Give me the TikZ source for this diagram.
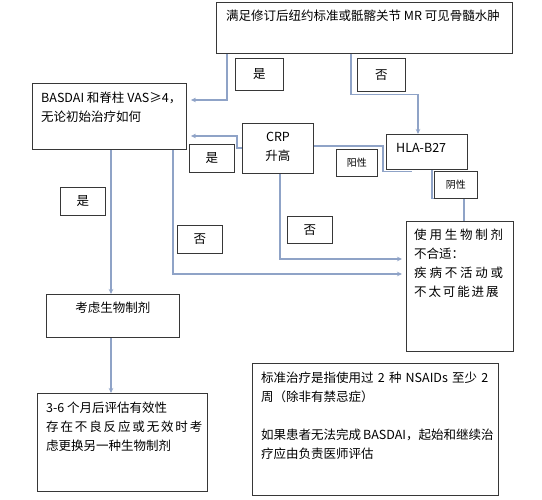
\documentclass[tikz,border=0pt]{standalone}
\usepackage{fontspec}
\setmainfont{Noto Sans CJK SC}
\usetikzlibrary{arrows.meta,calc,backgrounds}
\definecolor{lineblue}{RGB}{143,163,199}
\definecolor{boxgray}{RGB}{55,55,55}
\begin{document}
\begin{tikzpicture}[x=1pt,y=-1pt,
  box/.style={draw=boxgray,line width=0.9pt,fill=white,inner sep=0pt,anchor=north west},
  conn/.style={draw=lineblue,line width=1.1pt},
  arr/.style={conn,-{Stealth[length=5pt,width=4.5pt]}},
  txt/.style={inner sep=0pt,anchor=north west,align=left,font=\fontsize{12.5}{19}\selectfont},
  lbl/.style={box,font=\fontsize{12.5}{14}\selectfont},
  slbl/.style={box,font=\fontsize{10}{12}\selectfont},
]
\useasboundingbox (0,0) rectangle (542,500);

% main boxes
\node[box,minimum width=296pt,minimum height=51pt] (top) at (216,2) {};
\node[box,minimum width=154pt,minimum height=66pt] (basdai) at (32,83) {};
\node[box,minimum width=71pt,minimum height=50pt] (crp) at (242,123) {};
\node[box,minimum width=81pt,minimum height=35pt] (hla) at (386,134) {};
\node[box,minimum width=107pt,minimum height=130pt] (rightbox) at (406,221) {};
\node[box,minimum width=133pt,minimum height=43pt] (consider) at (46,294) {};
\node[box,minimum width=170pt,minimum height=98pt] (eval) at (37,393) {};
\node[box,minimum width=246pt,minimum height=132pt] (note) at (252,363) {};

% label boxes
\node[lbl,minimum width=48pt,minimum height=32pt] (yes1) at (235,58) {是};
\node[lbl,minimum width=48pt,minimum height=33pt] (no1) at (357,58) {否};
\node[lbl,minimum width=45pt,minimum height=28pt] (yes2) at (189,144) {是};
\node[slbl,minimum width=41pt,minimum height=27pt] (pos) at (336,149) {阳性};
\node[slbl,minimum width=43pt,minimum height=27pt] (neg) at (434,171) {阴性};
\node[lbl,minimum width=45pt,minimum height=28pt] (yes3) at (60,187) {是};
\node[lbl,minimum width=45pt,minimum height=28pt] (no2) at (177,225) {否};
\node[lbl,minimum width=45pt,minimum height=27pt] (no3) at (287,216) {否};

% texts
\node[txt] (topT) at ($(top.north west)+(10,8)$) {满足修订后纽约标准或骶髂关节 MR 可见骨髓水肿};
\node[txt] (basdaiT) at ($(basdai.north west)+(9,9)$) {BASDAI 和脊柱 VAS≥4，\\无论初始治疗如何};
\node[txt,anchor=north,align=center] (crpT) at ($(crp.north)+(0,9)$) {CRP\\升高};
\node[txt] (hlaT) at ($(hla.north west)+(10,9)$) {HLA-B27};
\node[txt] (rightT) at ($(rightbox.north west)+(8,8)$) {\makebox[89pt][s]{使 用 生 物 制 剂}\\不合适：\\\makebox[89pt][s]{疾 病 不 活 动 或}\\\makebox[76pt][s]{不 太 可 能 进 展}};
\node[txt,anchor=north,align=center] (considerT) at ($(consider.north)+(0,8)$) {考虑生物制剂};
\node[txt] (evalT) at ($(eval.north west)+(9,9)$) {3-6 个月后评估有效性\\\makebox[151pt][s]{存 在 不 良 反 应 或 无 效 时 考}\\虑更换另一种生物制剂};
\node[txt] (noteT) at ($(note.north west)+(9,9)$) {\makebox[227pt][s]{标准治疗是指使用过 2 种 NSAIDs 至少 2}\\周（除非有禁忌症）\\[19pt]\makebox[227pt][s]{如果患者无法完成 BASDAI，起始和继续治}\\疗应由负责医师评估};

% connectors
\begin{scope}[on background layer]
\fill[white] (0,0) rectangle (542,500);
\draw[arr] ($(top.south west)+(11,0)$) |- ($(basdai.north east)+(4,17)$);
\draw[arr] ($(top.south west)+(135,0)$) -- ++(0,41) -| ($(hla.north west)+(32,0)$);
\draw[arr] ($(crp.north west)+(0,25)$) -- ++(-5,0) |- ($(basdai.north east)+(4,53)$);
\draw[conn] ($(crp.north east)+(0,23)$) -| ($(hla.south west)+(-3,2)$) -- ($(hla.south west)+(26,2)$);
\draw[conn] ($(hla.south west)+(46,0)$) |- ($(neg.south west)+(30,0)$) -- ($(rightbox.north west)+(58,0)$);
\draw[arr] ($(crp.south west)+(38,0)$) |- ($(rightbox.north west)+(-4,38)$);
\draw[arr] ($(basdai.south west)+(141,0)$) |- ($(rightbox.north west)+(-4,53)$);
\draw[arr] ($(basdai.south west)+(79,0)$) -- ($(consider.north west)+(65,0)$);
\draw[arr,line width=1.8pt] ($(consider.south west)+(65,0)$) -- ($(eval.north west)+(74,0)$);
\end{scope}
\end{tikzpicture}
\end{document}
